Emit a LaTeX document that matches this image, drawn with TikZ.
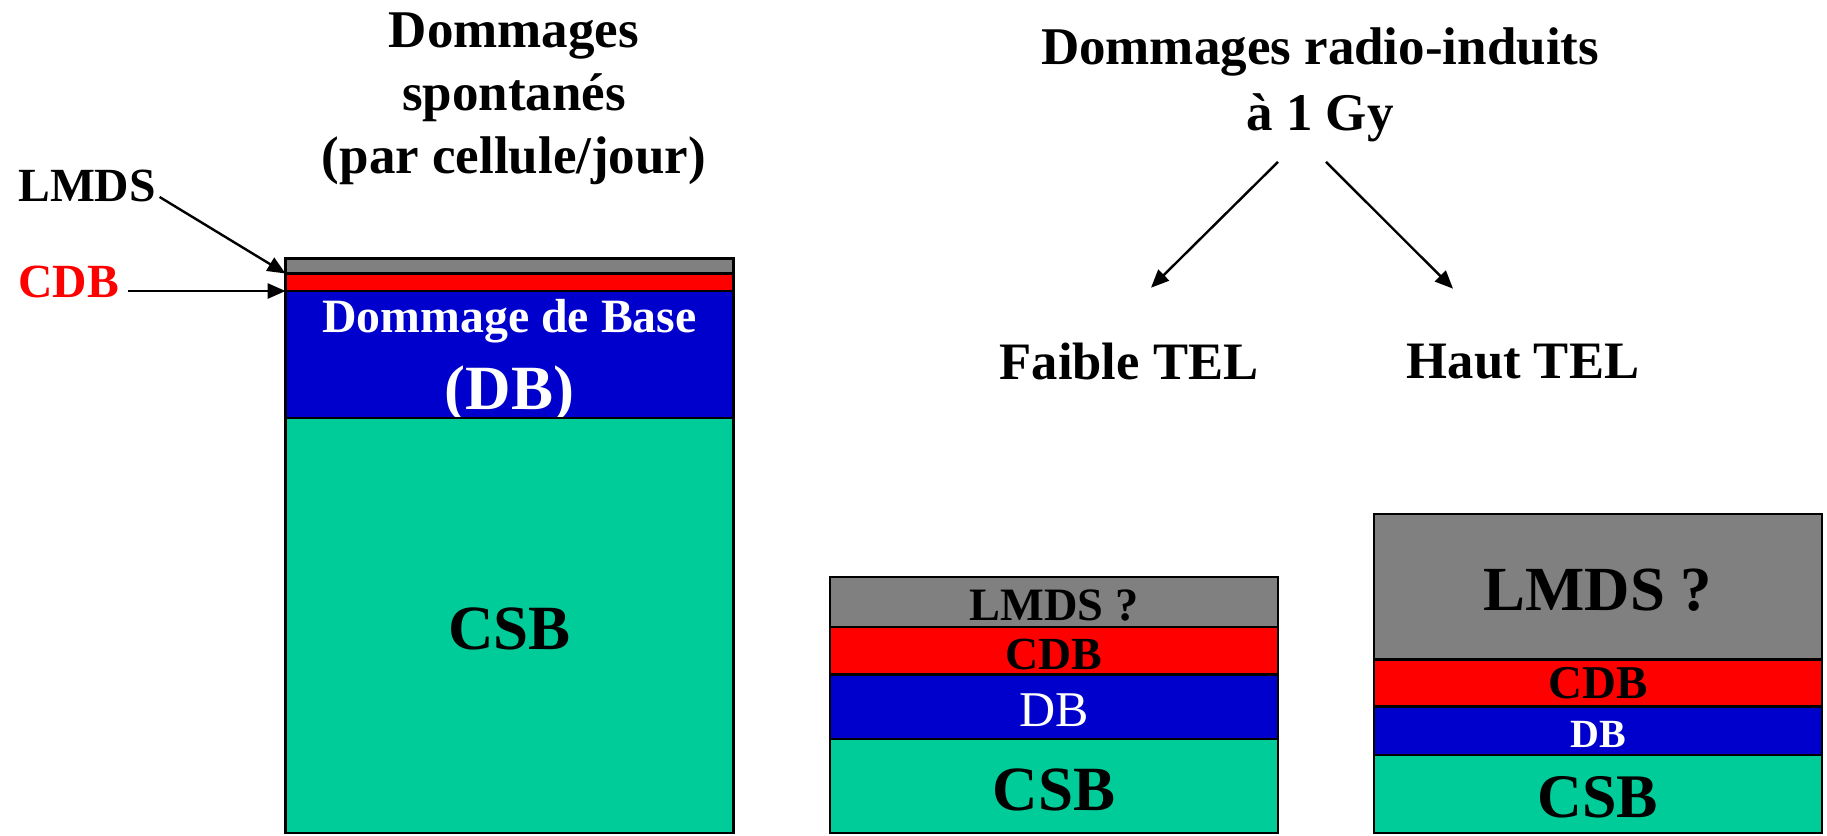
\documentclass[tikz,border=0pt]{standalone}
\usepackage{fontspec}
\setmainfont{Liberation Serif}
\usetikzlibrary{arrows.meta}

\definecolor{lmdsgray}{RGB}{128,128,128}
\definecolor{cdbred}{RGB}{255,0,0}
\definecolor{dbblue}{RGB}{0,0,204}
\definecolor{csbgreen}{RGB}{0,204,153}

\tikzset{
    % one band of a damage column
    layer/.style={draw, line width=0.7pt, anchor=north west, minimum width=112pt,
        inner sep=0pt, outer sep=0pt, align=center},
    arr/.style={-{Triangle[length=4.5pt, width=3.8pt]}, line width=0.6pt},
    txt/.style={inner sep=0pt, align=center, font=\bfseries}
}
\newcommand{\fs}[2]{\fontsize{#1}{#2}\selectfont}
% band text sits a little below the middle
\newcommand{\low}[1]{\raisebox{-0.9pt}[\height][\depth]{#1}}

\begin{document}
\begin{tikzpicture}[x=0.25pt, y=-0.25pt]
    \useasboundingbox (0,0) rectangle (1827,835);

    % Spontaneous damage column
    \node[layer, fill=lmdsgray, minimum height=3.75pt] (sLMDS) at (285.5,258.5) {};
    \node[layer, fill=cdbred, minimum height=4.375pt] (sCDB) at (285.5,273.5) {};
    \node[layer, fill=dbblue, minimum height=31.75pt, text=white, font=\bfseries, text depth=0pt] (sDB) at (285.5,291)
        {\fs{11.95pt}{14pt}Dommage de Base\\[4.75pt]\fs{15.75pt}{18pt}(DB)};
    \node[layer, fill=csbgreen, minimum height=103.75pt, font=\bfseries\fs{15.75pt}{18pt}] (sCSB) at (285.5,418) {\low{CSB}};

    \node[txt, font=\bfseries\fs{13.25pt}{15.75pt}] (spontTitle) at (514,98.5)
        {Dommages\\spontan\'es\\(par cellule/jour)};

    % side labels
    \node[txt, anchor=west, font=\bfseries\fs{11.9pt}{14pt}] (lmdsLbl) at (17.5,186) {LMDS};
    \node[txt, anchor=west, text=cdbred, font=\bfseries\fs{11.9pt}{14pt}] (cdbLbl) at (17.5,282) {CDB};
    \draw[arr] ([shift={(3,11)}]lmdsLbl.east) -- (sLMDS.south west);
    \draw[arr] ([shift={(8,9)}]cdbLbl.east) -- (sCDB.south west);

    % Radiation induced damage
    \node[txt, font=\bfseries\fs{13.25pt}{16.5pt}] (radioTitle) at (1320,85)
        {Dommages radio-induits\\\`a 1 Gy};
    \node[txt, font=\bfseries\fs{13.15pt}{16pt}] (lowLET) at (1129,362) {Faible TEL};
    \node[txt, font=\bfseries\fs{13.15pt}{16pt}] (highLET) at (1523,362) {Haut TEL};
    \draw[arr] ([shift={(-42,19)}]radioTitle.south) -- ([shift={(22,-55)}]lowLET.north);
    \draw[arr] ([shift={(6,19)}]radioTitle.south) -- ([shift={(-70,-55)}]highLET.north);

    % low LET column
    \node[layer, fill=lmdsgray, minimum height=12.5pt, font=\bfseries\fs{11.6pt}{14pt}] (lLMDS) at (830,577) {\low{LMDS ?}};
    \node[layer, fill=cdbred, minimum height=11.875pt, font=\bfseries\fs{11.5pt}{14pt}] (lCDB) at (830,627) {\low{CDB}};
    \node[layer, fill=dbblue, minimum height=16.125pt, text=white, font=\fs{12.5pt}{14pt}] (lDB) at (830,674.5) {\low{DB}};
    \node[layer, fill=csbgreen, minimum height=23.5pt, font=\bfseries\fs{15.75pt}{18pt}] (lCSB) at (830,739) {\low{CSB}};

    % high LET column
    \node[layer, fill=lmdsgray, minimum height=36.375pt, font=\bfseries\fs{15.7pt}{18pt}] (hLMDS) at (1374,514) {\low{LMDS ?}};
    \node[layer, fill=cdbred, minimum height=11.75pt, font=\bfseries\fs{11.75pt}{14pt}] (hCDB) at (1374,659.5) {CDB};
    \node[layer, fill=dbblue, minimum height=12.125pt, text=white, font=\bfseries\fs{10pt}{12pt}] (hDB) at (1374,706.5) {\low{DB}};
    \node[layer, fill=csbgreen, minimum height=19.5pt, font=\bfseries\fs{15.5pt}{18pt}] (hCSB) at (1374,755) {\low{CSB}};
\end{tikzpicture}
\end{document}
